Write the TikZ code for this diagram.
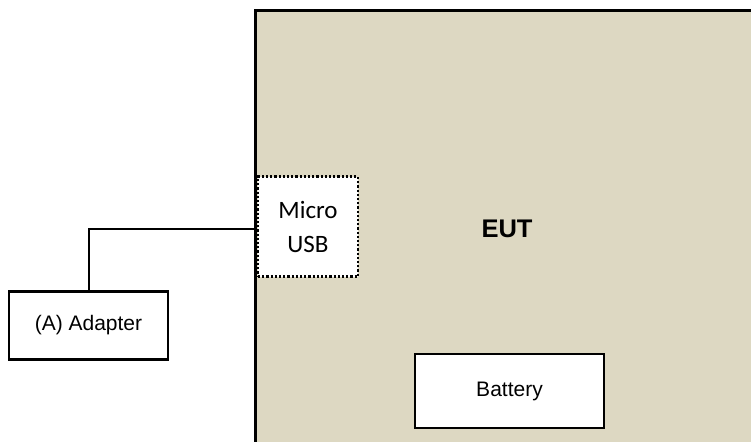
\documentclass[tikz,border=0pt]{standalone}
\usepackage{fontspec}
\setmainfont{Liberation Sans}
\newfontfamily\calibri{Carlito}
\usetikzlibrary{positioning}
\definecolor{eutfill}{HTML}{DDD8C2}
\tikzset{x=1pt, y=-1pt,
every box/.style={ % Sets the properties for each white box
draw,
line width=2.8pt,
fill=white,
inner sep=0pt,
font=\fontsize{21}{25}\selectfont},
port box/.style={ % Dotted port on the EUT edge
draw,
dotted,
line width=2.2pt,
fill=white,
inner sep=0pt,
align=center,
font=\calibri\fontsize{25}{34}\selectfont},
cable/.style={ % Connection line
draw,
line width=2.4pt}}

\begin{document}
\begin{tikzpicture}
\useasboundingbox (0,0) rectangle (751,441);
\fill[eutfill] (255,11) rectangle (760,450);
\draw[line width=3pt] (255,450) -- (255,11) -- (760,11);
\node[font=\bfseries\fontsize{25.5}{30}\selectfont] (eut) at (507,229) {EUT};
\node[port box, minimum width=100pt, minimum height=100pt] (usb) at (308,226.5) {\raisebox{-2pt}{Micro}\\\raisebox{-2pt}{USB}};
\node[every box, minimum width=159pt, minimum height=68pt] (adapter) at (88.5,325.5) {(A) Adapter};
\node[every box, minimum width=189pt, minimum height=74pt] (battery) at (509.5,391) {Battery};
\coordinate (bend) at (89,229);
\coordinate (entry) at (255,229);
\draw[cable] (adapter.north -| bend) -- (bend) -- (entry);
\end{tikzpicture}
\end{document}
